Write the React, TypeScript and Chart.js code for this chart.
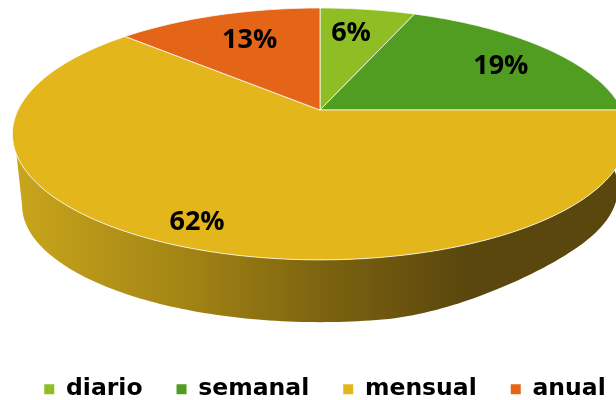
import React, { useEffect, useRef } from "react";
import { Chart, registerables } from "chart.js";

Chart.register(...registerables);

const categories = ["diario", "semanal", "mensual", "anual"];
const shares = [6, 19, 62, 13];
const sliceColors = ["#8fbe24", "#519d22", "#e3b71b", "#e46518"];
const labelDepth = [0.75, 0.76, 0.85, 0.72];
const labelTurnDeg = [-1.8, 2.2, 2.5, 2.0];

const LEGEND_FONT = '"DejaVu Sans", sans-serif';
const LABEL_FONT = '"Open Sans", sans-serif';

// Perspective projection of the unit disc: points nearer the viewer grow.
const TILT = 0.19;
const top = { cx: 320, cy: 110, a: 302, b: 121.4 };
const base = { cx: 320, cy: 183, a: 292.5, b: 112.7 };

function project(p: typeof top, angle: number, r = 1) {
  const x = Math.cos(angle) * r;
  const y = Math.sin(angle) * r;
  const w = 1 - TILT * y;
  return { x: p.cx + (p.a * x) / w, y: p.cy + (p.b * y) / w };
}

// The far right of the lower rim sits a little higher than the left.
function baseRim(angle: number) {
  const pt = project(base, angle);
  const t = Math.min(1, Math.max(0, (pt.x - 380) / 210));
  return { x: pt.x, y: pt.y - 17 * t * t * (3 - 2 * t) };
}

const rad = (deg: number) => (deg * Math.PI) / 180;

function traceSlice(ctx: CanvasRenderingContext2D, start: number, end: number) {
  ctx.beginPath();
  ctx.moveTo(top.cx, top.cy);
  const steps = Math.ceil((end - start) / rad(1));
  for (let i = 0; i <= steps; i++) {
    const pt = project(top, start + ((end - start) * i) / steps);
    ctx.lineTo(pt.x, pt.y);
  }
  ctx.closePath();
}

const pie3d = {
  id: "pie3d",
  beforeDatasetsDraw(chart: Chart) {
    const ctx = chart.ctx;
    const arcs = chart.getDatasetMeta(0).data as any[];

    // Side wall of the disc, in front of the top face.
    ctx.save();
    ctx.beginPath();
    for (let d = -15; d <= 160; d++) {
      const pt = project(top, rad(d));
      ctx.lineTo(pt.x, pt.y);
    }
    for (let d = 169; d >= -15; d--) {
      const pt = baseRim(rad(d));
      ctx.lineTo(pt.x, pt.y);
    }
    ctx.closePath();
    const wall = ctx.createLinearGradient(14, 0, 616, 0);
    wall.addColorStop(0, "#c9a61c");
    wall.addColorStop(0.3, "#a08214");
    wall.addColorStop(0.5, "#7f6510");
    wall.addColorStop(0.75, "#5a470d");
    wall.addColorStop(1, "#5a470d");
    ctx.fillStyle = wall;
    ctx.fill();

    // Top face, one wedge per slice.
    arcs.forEach((arc, i) => {
      const { startAngle, endAngle } = arc.getProps(["startAngle", "endAngle"]);
      traceSlice(ctx, startAngle, endAngle);
      ctx.fillStyle = sliceColors[i];
      ctx.fill();
      ctx.strokeStyle = "rgba(255,255,255,0.75)";
      ctx.lineWidth = 1;
      ctx.stroke();
    });

    // Percentage labels near each wedge's mid-angle.
    ctx.fillStyle = "#000";
    ctx.font = `700 27px ${LABEL_FONT}`;
    ctx.textAlign = "center";
    ctx.textBaseline = "middle";
    arcs.forEach((arc, i) => {
      const { startAngle, endAngle } = arc.getProps(["startAngle", "endAngle"]);
      const mid = (startAngle + endAngle) / 2 + rad(labelTurnDeg[i]);
      const pt = project(top, mid, labelDepth[i]);
      ctx.fillText(`${shares[i]}%`, pt.x, pt.y + 2);
    });
    ctx.restore();
    return false;
  },
};

export default function App() {
  const ref = useRef<HTMLCanvasElement>(null);

  useEffect(() => {
    const chart = new Chart(ref.current!, {
      type: "pie",
      data: {
        labels: categories,
        datasets: [{ data: shares, backgroundColor: sliceColors, borderWidth: 0 }],
      },
      options: {
        animation: false,
        responsive: false,
        // The legend row is wider than the default box and sits right of centre.
        layout: { padding: { left: 5.5, right: -28.5, bottom: -11 } },
        plugins: {
          tooltip: { enabled: false },
          legend: {
            position: "bottom",
            labels: {
              boxWidth: 10,
              boxHeight: 10,
              padding: 34,
              color: "#000",
              font: { family: LEGEND_FONT, size: 23.5, weight: "600" },
            },
          },
        },
      },
      plugins: [pie3d],
    } as any);
    return () => chart.destroy();
  }, []);

  return (
    <div style={{ position: "fixed", left: 0, top: 0, width: 616, height: 400, background: "#fff" }}>
      <canvas ref={ref} width={616} height={400} style={{ display: "block" }} />
    </div>
  );
}
